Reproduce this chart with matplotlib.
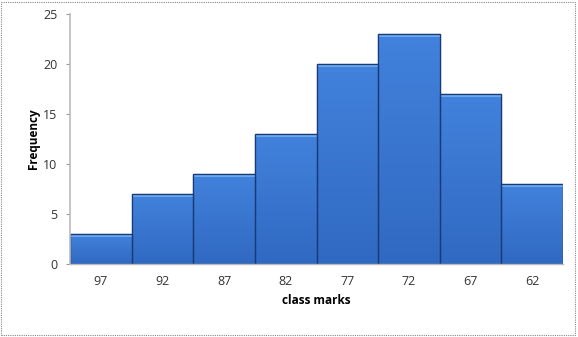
import matplotlib
matplotlib.use("Agg")
import matplotlib.pyplot as plt
import numpy as np
from matplotlib.patches import Rectangle
from matplotlib.colors import LinearSegmentedColormap

categories = ["97", "92", "87", "82", "77", "72", "67", "62"]
frequencies = [3, 7, 9, 13, 20, 23, 17, 8]

plt.rcParams['font.family'] = ['Open Sans', 'DejaVu Sans']

fig = plt.figure(figsize=(5.78, 3.37), dpi=100)
ax = fig.add_axes([70/578, 1-264/337, (563-70)/578, (264-14)/337])

x = np.arange(len(categories))
bars = ax.bar(x, frequencies, width=1.0, color='#3b78d3', edgecolor='#1a3a75', linewidth=0.9, zorder=2)

grad = np.linspace(0, 1, 256).reshape(-1, 1)
cmap = LinearSegmentedColormap.from_list('g', ['#3069c2', '#4282dc'])
for b in bars:
    x0, w, h = b.get_x(), b.get_width(), b.get_height()
    im = ax.imshow(grad, extent=[x0, x0 + w, 0, h], origin='lower', cmap=cmap,
                   aspect='auto', zorder=2.1, interpolation='bilinear')
    im.set_clip_path(b)
    ax.add_patch(Rectangle((x0, h - 0.3), w, 0.3, facecolor='#6aa8ee', edgecolor='none', zorder=2.2))
    ax.add_patch(Rectangle((x0, 0), w, h, facecolor='none', edgecolor='#1a3a75', linewidth=0.9, zorder=2.3))

ax.set_xlim(-0.5, len(categories) - 0.5)
ax.set_ylim(0, 25)
ax.set_yticks([0, 5, 10, 15, 20, 25])
ax.set_xticks(x)
ax.set_xticklabels(categories)
ax.tick_params(axis='x', length=0, pad=8, labelsize=9, colors='#333333')
ax.tick_params(axis='y', length=3, width=0.8, color='#999999', pad=6, labelsize=9, labelcolor='#333333')

for s in ['top', 'right']:
    ax.spines[s].set_visible(False)
ax.spines['left'].set_color('#bbbbbb')
ax.spines['left'].set_linewidth(1.2)
ax.spines['bottom'].set_color('#bbbbbb')
ax.spines['bottom'].set_linewidth(1.0)

ax.set_ylabel('Frequency', fontsize=8.5, fontweight='bold', labelpad=2)
ax.yaxis.set_label_coords(-30/493, 0.5)
ax.set_xlabel('class marks', fontsize=8.5, fontweight='bold', labelpad=4)

border = Rectangle((1/578, 2/337), 574/578, 333/337, transform=fig.transFigure,
                   facecolor='none', edgecolor='#888888', linewidth=0.8, linestyle=(0, (1, 1)))
fig.patches.append(border)

fig.savefig('out.png', dpi=100)
